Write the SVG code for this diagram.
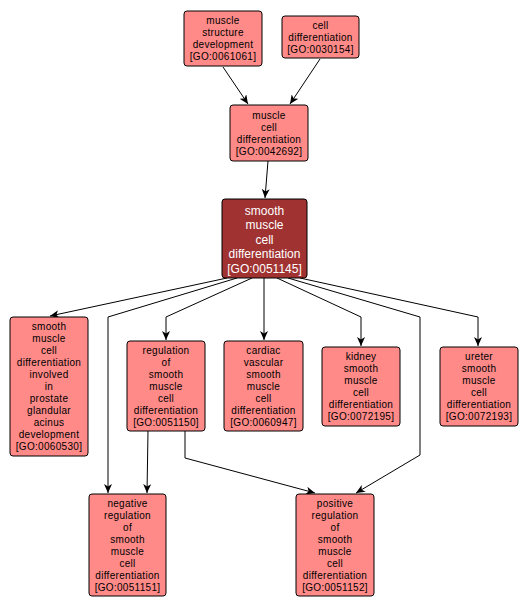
<svg xmlns="http://www.w3.org/2000/svg" width="528" height="610" viewBox="0 0 528 610">
<style>
.n rect{fill:#ff8a88;stroke:#000;stroke-width:1}
.n text{font-family:"Liberation Sans",Arial,sans-serif;font-size:10px;letter-spacing:0.3px;fill:#000;text-anchor:middle}
.d rect{fill:#a03232;stroke:#000;stroke-width:1}
.d text{font-family:"Liberation Sans",Arial,sans-serif;font-size:12px;fill:#fff;text-anchor:middle}
.e path{fill:none;stroke:#000;stroke-width:1;marker-end:url(#a)}
</style>
<defs>
<marker id="a" markerUnits="userSpaceOnUse" markerWidth="10" markerHeight="8" refX="9" refY="4" orient="auto">
<path d="M0,0 L9,4 L0,8 L2.5,4 z" fill="#000"/>
</marker>
</defs>
<rect width="528" height="610" fill="#fff"/>
<g id="edges" class="e">
<path d="M223,67 L248,104"/>
<path d="M320,59 L290,104"/>
<path d="M268,161 L265,198"/>
<path d="M227,278 L50,316"/>
<path d="M237,278 L108,317 L108,493"/>
<path d="M252,278 L166,317 L166,340"/>
<path d="M264,278 L264,340"/>
<path d="M277,278 L361,317 L361,346"/>
<path d="M288,278 L420,317 L420,455 L356,493"/>
<path d="M300,278 L478,317 L478,346"/>
<path d="M148,431 L147,493"/>
<path d="M185,431 L185,458 L315,493"/>
</g>
<g id="n1" class="n"><rect x="184" y="11" width="78" height="55" rx="3"/>
<text x="223" y="24">muscle</text><text x="223" y="36">structure</text><text x="223" y="48">development</text><text x="223" y="60">[GO:0061061]</text></g>
<g id="n2" class="n"><rect x="282" y="16" width="77" height="42" rx="3"/>
<text x="320.5" y="28.5">cell</text><text x="320.5" y="40.5">differentiation</text><text x="320.5" y="52.5">[GO:0030154]</text></g>
<g id="n3" class="n"><rect x="230" y="105" width="78" height="56" rx="3"/>
<text x="269" y="118.5">muscle</text><text x="269" y="130.5">cell</text><text x="269" y="142.5">differentiation</text><text x="269" y="154.5">[GO:0042692]</text></g>
<g id="n4" class="d"><rect x="222" y="199" width="85" height="79" rx="3"/>
<text x="264.5" y="215">smooth</text><text x="264.5" y="229.4">muscle</text><text x="264.5" y="243.8">cell</text><text x="264.5" y="258.2">differentiation</text><text x="264.5" y="272.6">[GO:0051145]</text></g>
<g id="n5" class="n"><rect x="10" y="317" width="78" height="139" rx="3"/>
<text x="49" y="330">smooth</text><text x="49" y="342">muscle</text><text x="49" y="354">cell</text><text x="49" y="366">differentiation</text><text x="49" y="378">involved</text><text x="49" y="390">in</text><text x="49" y="402">prostate</text><text x="49" y="414">glandular</text><text x="49" y="426">acinus</text><text x="49" y="438">development</text><text x="49" y="450">[GO:0060530]</text></g>
<g id="n6" class="n"><rect x="127" y="341" width="78" height="90" rx="3"/>
<text x="166" y="353.5">regulation</text><text x="166" y="365.5">of</text><text x="166" y="377.5">smooth</text><text x="166" y="389.5">muscle</text><text x="166" y="401.5">cell</text><text x="166" y="413.5">differentiation</text><text x="166" y="425.5">[GO:0051150]</text></g>
<g id="n7" class="n"><rect x="224" y="341" width="79" height="90" rx="3"/>
<text x="263.5" y="353.5">cardiac</text><text x="263.5" y="365.5">vascular</text><text x="263.5" y="377.5">smooth</text><text x="263.5" y="389.5">muscle</text><text x="263.5" y="401.5">cell</text><text x="263.5" y="413.5">differentiation</text><text x="263.5" y="425.5">[GO:0060947]</text></g>
<g id="n8" class="n"><rect x="322" y="347" width="78" height="79" rx="3"/>
<text x="361" y="360">kidney</text><text x="361" y="372">smooth</text><text x="361" y="384">muscle</text><text x="361" y="396">cell</text><text x="361" y="408">differentiation</text><text x="361" y="420">[GO:0072195]</text></g>
<g id="n9" class="n"><rect x="440" y="347" width="78" height="79" rx="3"/>
<text x="479" y="360">ureter</text><text x="479" y="372">smooth</text><text x="479" y="384">muscle</text><text x="479" y="396">cell</text><text x="479" y="408">differentiation</text><text x="479" y="420">[GO:0072193]</text></g>
<g id="n10" class="n"><rect x="89" y="494" width="77" height="102" rx="3"/>
<text x="127.5" y="506.5">negative</text><text x="127.5" y="518.5">regulation</text><text x="127.5" y="530.5">of</text><text x="127.5" y="542.5">smooth</text><text x="127.5" y="554.5">muscle</text><text x="127.5" y="566.5">cell</text><text x="127.5" y="578.5">differentiation</text><text x="127.5" y="590.5">[GO:0051151]</text></g>
<g id="n11" class="n"><rect x="296" y="494" width="78" height="102" rx="3"/>
<text x="335" y="506.5">positive</text><text x="335" y="518.5">regulation</text><text x="335" y="530.5">of</text><text x="335" y="542.5">smooth</text><text x="335" y="554.5">muscle</text><text x="335" y="566.5">cell</text><text x="335" y="578.5">differentiation</text><text x="335" y="590.5">[GO:0051152]</text></g>
</svg>
